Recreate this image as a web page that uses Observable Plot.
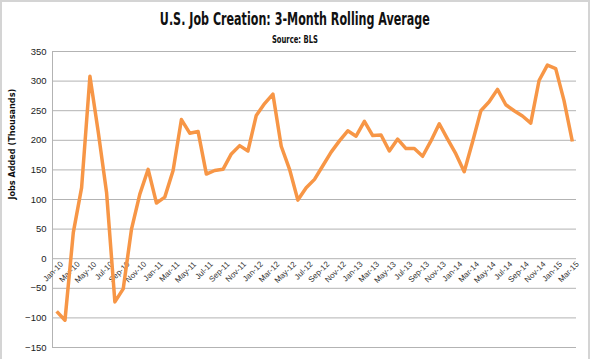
<!DOCTYPE html>
<html><head><meta charset="utf-8">
<script src="https://cdn.jsdelivr.net/npm/d3@7"></script>
<script src="https://cdn.jsdelivr.net/npm/@observablehq/plot@0.6"></script>
<style>
body{margin:0;background:#fff}
#wrap{position:relative;width:590px;height:359px;box-sizing:border-box;border:2px solid #d4d4d4;border-bottom:none;overflow:hidden;background:#fff}
.hd{position:absolute;left:0;right:0;text-align:center;white-space:nowrap}
.hd span{display:inline-block;transform-origin:50% 50%;font-family:"DejaVu Sans Condensed","DejaVu Sans",sans-serif;font-stretch:condensed;font-weight:bold;color:#111}
#title{top:8px;height:18px}
#title span{font-size:17.5px;line-height:18px}
#sub{top:27px;height:11px}
#sub span{font-size:10.5px;line-height:11px}
#chart{position:absolute;left:0;top:38px}
</style>
</head><body>
<div id="wrap">
  <div id="title" class="hd"><span>U.S. Job Creation: 3-Month Rolling Average</span></div>
  <div id="sub" class="hd"><span>Source: BLS</span></div>
  <div id="chart"></div>
</div>
<script>
const months = ["Jan-10","Feb-10","Mar-10","Apr-10","May-10","Jun-10","Jul-10","Aug-10","Sep-10","Oct-10","Nov-10","Dec-10",
"Jan-11","Feb-11","Mar-11","Apr-11","May-11","Jun-11","Jul-11","Aug-11","Sep-11","Oct-11","Nov-11","Dec-11",
"Jan-12","Feb-12","Mar-12","Apr-12","May-12","Jun-12","Jul-12","Aug-12","Sep-12","Oct-12","Nov-12","Dec-12",
"Jan-13","Feb-13","Mar-13","Apr-13","May-13","Jun-13","Jul-13","Aug-13","Sep-13","Oct-13","Nov-13","Dec-13",
"Jan-14","Feb-14","Mar-14","Apr-14","May-14","Jun-14","Jul-14","Aug-14","Sep-14","Oct-14","Nov-14","Dec-14",
"Jan-15","Feb-15","Mar-15"];
const values = [-89,-104,44,120,308,214,112,-73,-51,50,109,151,
94,104,149,235,212,215,143,149,151,177,191,182,
242,262,278,190,151,99,120,134,157,180,199,216,
207,232,208,209,182,202,186,186,173,199,228,202,
177,147,197,250,265,286,260,250,241,229,301,327,
321,267,198];
const xTickLabels = ["Jan-10","Mar-10","May-10","Jul-10","Sep-10","Nov-10","Jan-11","Mar-11","May-11","Jul-11","Sep-11","Nov-11",
"Jan-12","Mar-12","May-12","Jul-12","Sep-12","Nov-12","Jan-13","Mar-13","May-13","Jul-13","Sep-13","Nov-13",
"Jan-14","Mar-14","May-14","Jul-14","Sep-14","Nov-14","Jan-15","Mar-15"];
const yTicks = [-150,-100,-50,0,50,100,150,200,250,300,350];
const yLabel = "Jobs Added (Thousands)";

// squeeze header text horizontally to mimic the condensed typeface
function squeeze(sel, target) {
  const s = document.querySelector(sel);
  const w = s.getBoundingClientRect().width;
  if (w > 0) s.style.transform = `scaleX(${target / w})`;
}
squeeze("#title span", 270);
squeeze("#sub span", 46);

const data = months.map((m, i) => ({i, month: m, value: values[i]}));
const labels = xTickLabels.map(t => ({i: months.indexOf(t), t}));

const chart = Plot.plot({
  width: 586, height: 319,
  marginLeft: 50, marginRight: 12, marginTop: 11, marginBottom: 12,
  style: {fontFamily: "'Liberation Sans', Arial, sans-serif", background: "transparent", overflow: "visible"},
  x: {domain: [-0.5, months.length - 0.5], axis: null},
  y: {domain: [-150, 350], axis: null},
  marks: [
    Plot.gridY(yTicks, {stroke: "#b3b3b3", strokeOpacity: 1, strokeWidth: 1}),
    Plot.ruleX([-0.5], {stroke: "#b3b3b3", strokeWidth: 1}),
    Plot.axisY(yTicks, {tickSize: 0, tickPadding: 6, fontSize: 9.5, fill: "#222", label: null}),
    Plot.text(labels, {x: "i", y: () => 0, text: "t", rotate: -45, textAnchor: "end", lineAnchor: "top", dx: 3, dy: 2, fontSize: 8, fill: "#333"}),
    Plot.lineY(data, {x: "i", y: "value", stroke: "#f79646", strokeWidth: 3.5, strokeLinejoin: "round", strokeLinecap: "butt"}),
    Plot.text([yLabel], {frameAnchor: "left", rotate: -90, dx: -40, dy: 0, fontSize: 9, fontWeight: "bold", fill: "#111",
      fontFamily: "'DejaVu Sans Condensed','DejaVu Sans',sans-serif", fontStretch: "condensed"})
  ]
});
document.getElementById("chart").appendChild(chart);
</script>
</body></html>
